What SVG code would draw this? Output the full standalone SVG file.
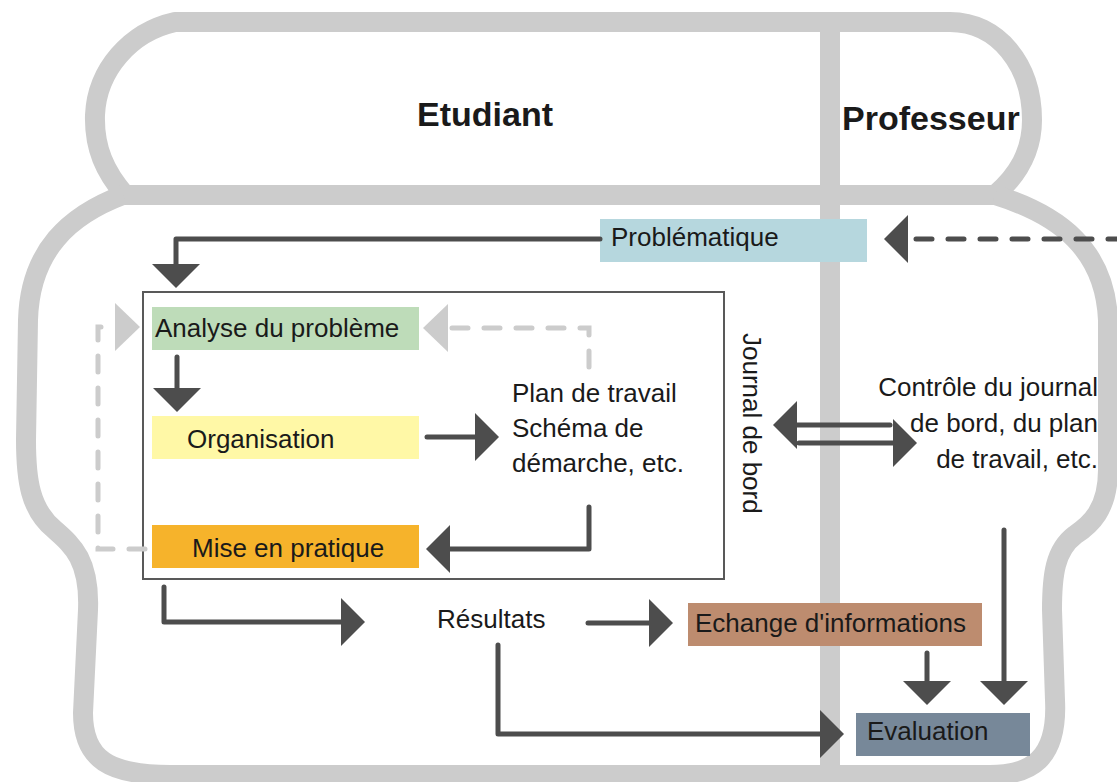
<svg xmlns="http://www.w3.org/2000/svg" width="1117" height="782" viewBox="0 0 1117 782">
<style>
.outline{fill:none;stroke:#cccccc;stroke-width:20;stroke-linejoin:round}
.txt{font-family:"Liberation Sans",Arial,Helvetica,sans-serif;font-size:26px;fill:#1a1a1a}
.title{font-family:"Liberation Sans",Arial,Helvetica,sans-serif;font-size:34px;font-weight:bold;fill:#1a1a1a}
.conn{fill:none;stroke:#4d4d4d;stroke-width:5;stroke-linecap:round;stroke-linejoin:round}
.dash{fill:none;stroke:#4d4d4d;stroke-width:5;stroke-linecap:round;stroke-dasharray:16 16}
.gdash{fill:none;stroke:#cccccc;stroke-width:5;stroke-linecap:round;stroke-dasharray:16 16}
</style>
<defs>
<marker id="ah" viewBox="0 0 24 48" refX="0" refY="24" markerWidth="24" markerHeight="48" markerUnits="userSpaceOnUse" orient="auto">
<path d="M0,0 L24,24 L0,48 Z" fill="#4d4d4d"/>
</marker>
<marker id="gh" viewBox="0 0 25 48" refX="0" refY="24" markerWidth="25" markerHeight="48" markerUnits="userSpaceOnUse" orient="auto">
<path d="M0,0 L25,24 L0,48 Z" fill="#cccccc"/>
</marker>
</defs>
<rect width="1117" height="782" fill="#ffffff"/>
<g id="outline">
<path class="outline" d="M175,22 L950,22 C998,22 1032,65 1032,120 C1032,152 1018,175 995,195 L125,195 C105,172 94,148 95,115 C97,70 130,32 175,22 Z"/>
<path class="outline" d="M123,195 C70,215 30,250 28,320 L26,440 C26,480 30,510 55,530 C72,545 90,560 88,610 L83,713 C83,760 110,775 170,775 L990,775 C1030,775 1058,760 1055,700 L1052,610 C1052,575 1055,550 1075,535 C1090,525 1108,510 1108,470 L1108,320 C1105,250 1060,215 995,195"/>
<line class="outline" x1="830" y1="22" x2="830" y2="775"/>
</g>
<g id="lane-etudiant"><text class="title" x="417" y="126">Etudiant</text></g>
<g id="lane-professeur"><text class="title" x="842" y="130">Professeur</text></g>
<g id="problematique">
<rect x="600" y="219" width="267" height="43" fill="#b6d7de"/>
<text class="txt" x="611" y="246">Problématique</text>
</g>
<g id="phase-frame">
<rect x="143" y="292" width="581" height="287" fill="none" stroke="#595959" stroke-width="2"/>
</g>
<g id="analyse">
<rect x="152" y="307" width="267" height="43" fill="#bedcb9"/>
<text class="txt" x="155" y="337">Analyse du problème</text>
</g>
<g id="organisation">
<rect x="152" y="416" width="267" height="43" fill="#fff8a6"/>
<text class="txt" x="187" y="448">Organisation</text>
</g>
<g id="mise-en-pratique">
<rect x="152" y="525" width="267" height="43" fill="#f6b32b"/>
<text class="txt" x="192" y="557">Mise en pratique</text>
</g>
<g id="plan-de-travail">
<text class="txt" x="512" y="402">Plan de travail</text>
<text class="txt" x="512" y="437">Schéma de</text>
<text class="txt" x="512" y="472">démarche, etc.</text>
</g>
<g id="journal-de-bord">
<text class="txt" transform="translate(743,333) rotate(90)">Journal de bord</text>
</g>
<g id="controle">
<text class="txt" x="1098" y="396" text-anchor="end">Contrôle du journal</text>
<text class="txt" x="1098" y="432" text-anchor="end">de bord, du plan</text>
<text class="txt" x="1098" y="468" text-anchor="end">de travail, etc.</text>
</g>
<g id="resultats">
<text class="txt" x="437" y="628">Résultats</text>
</g>
<g id="echange">
<rect x="688" y="603" width="294" height="43" fill="#bd8c6f"/>
<text class="txt" x="695" y="632">Echange d'informations</text>
</g>
<g id="evaluation">
<rect x="856" y="713" width="174" height="43" fill="#778899"/>
<text class="txt" x="867" y="740">Evaluation</text>
</g>
<g id="connectors">
<path class="conn" d="M600,239 L176,239 L176,264" marker-end="url(#ah)"/>
<path class="conn" d="M177,357 L177,388" marker-end="url(#ah)"/>
<path class="conn" d="M427,437 L475,437" marker-end="url(#ah)"/>
<path class="conn" d="M589,507 L589,549 L450,549" marker-end="url(#ah)"/>
<path class="conn" d="M890,425 L797,425" marker-end="url(#ah)"/>
<path class="conn" d="M799,443 L893,443" marker-end="url(#ah)"/>
<path class="conn" d="M164,587 L164,622 L341,622" marker-end="url(#ah)"/>
<path class="conn" d="M588,623 L649,623" marker-end="url(#ah)"/>
<path class="conn" d="M498,645 L498,734 L820,734" marker-end="url(#ah)"/>
<path class="conn" d="M927,653 L927,681" marker-end="url(#ah)"/>
<path class="conn" d="M1004,530 L1004,681" marker-end="url(#ah)"/>
<path class="dash" d="M1124,239 L908,239" marker-end="url(#ah)"/>
<path class="gdash" d="M145,549 L98,549 L98,327 L115,327" marker-end="url(#gh)"/>
<path class="gdash" d="M589,367 L589,328 L448,328" marker-end="url(#gh)"/>
</g>
</svg>
